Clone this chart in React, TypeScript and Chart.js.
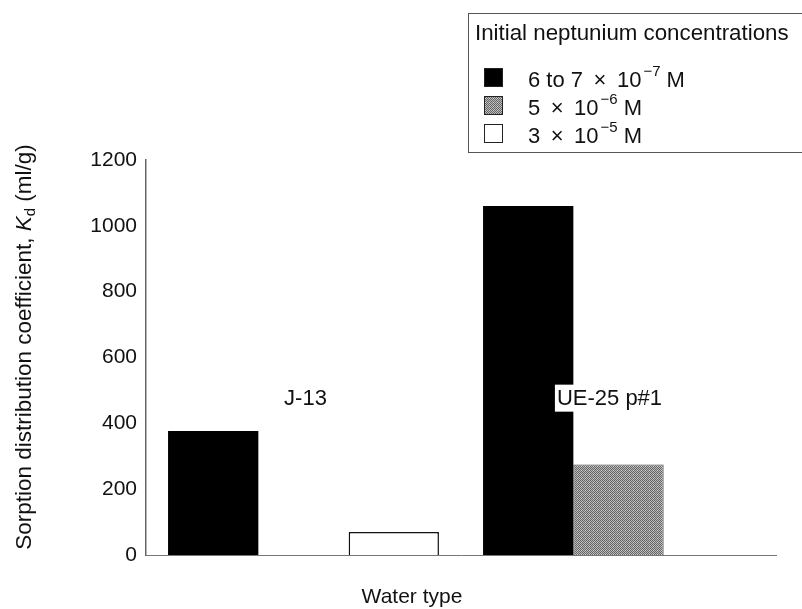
import React, { useEffect, useRef } from "react";
import { Chart, registerables } from "chart.js";

Chart.register(...registerables);

// ---------- data ----------
const categories = ["J-13", "UE-25 p#1"];
const seriesBase = ["6 to 7 \u2009\u00d7\u2009 10", "5 \u2009\u00d7\u2009 10", "3 \u2009\u00d7\u2009 10"];
const seriesExp = ["\u22127", "\u22126", "\u22125"];
const lowConc = [377, 1060];
const midConc: (number | null)[] = [null, 275];
const highConc: (number | null)[] = [70, null];
const yTicks = [0, 200, 400, 600, 800, 1000, 1200];
const legendTitle = "Initial neptunium concentrations";
const xTitle = "Water type";
const yTitleParts = ["Sorption distribution coefficient, ", "K", "d", " (ml/g)"];
const categoryLabelValue = 478;

const FONT = "'Liberation Sans', Arial, Helvetica, sans-serif";

function makeGreyPattern(): CanvasPattern | string {
  const c = document.createElement("canvas");
  c.width = 4;
  c.height = 4;
  const g = c.getContext("2d");
  if (!g) return "#909090";
  g.fillStyle = "#b9b9b9";
  g.fillRect(0, 0, 4, 4);
  g.fillStyle = "#656565";
  const dark = [
    [0, 0], [2, 0], [1, 1], [3, 1], [0, 2], [2, 2], [3, 3], [1, 3],
  ];
  dark.forEach(([x, y]) => g.fillRect(x, y, 1, 1));
  g.fillStyle = "#d8d8d8";
  g.fillRect(1, 2, 1, 1);
  const p = g.createPattern(c, "repeat");
  return p || "#909090";
}

export default function App() {
  const ref = useRef<HTMLCanvasElement | null>(null);

  useEffect(() => {
    if (!ref.current) return;
    const grey = makeGreyPattern();

    const drawPlugin = {
      id: "customDraw",
      afterDraw(chart: any) {
        const ctx: CanvasRenderingContext2D = chart.ctx;
        const xs = chart.scales.x;
        const ys = chart.scales.y;
        ctx.save();

        // category labels
        const offsets = [2, -9];
        ctx.font = `22px ${FONT}`;
        ctx.textBaseline = "middle";
        ctx.textAlign = "center";
        categories.forEach((c, i) => {
          const cx = xs.getPixelForValue(i) + offsets[i];
          const cy = ys.getPixelForValue(categoryLabelValue);
          const w = ctx.measureText(c).width;
          ctx.fillStyle = "#ffffff";
          ctx.fillRect(cx - w / 2 - 2, cy - 13, w + 4, 27);
          ctx.fillStyle = "#111";
          ctx.fillText(c, cx, cy + 1);
        });

        // x title
        ctx.font = `21px ${FONT}`;
        ctx.textAlign = "center";
        ctx.textBaseline = "alphabetic";
        ctx.fillStyle = "#111";
        ctx.fillText(xTitle, 412, 603);

        // y title (rotated, with italic K and subscript d)
        ctx.save();
        ctx.translate(25, 347);
        ctx.rotate(-Math.PI / 2);
        ctx.textBaseline = "middle";
        ctx.textAlign = "left";
        const fonts = [
          `22.5px ${FONT}`,
          `italic 22.5px ${FONT}`,
          `15px ${FONT}`,
          `22.5px ${FONT}`,
        ];
        const widths = yTitleParts.map((t, i) => {
          ctx.font = fonts[i];
          return ctx.measureText(t).width;
        });
        const total = widths.reduce((a, b) => a + b, 0);
        let px = -total / 2;
        yTitleParts.forEach((t, i) => {
          ctx.font = fonts[i];
          ctx.fillText(t, px, i === 2 ? 6 : 0);
          px += widths[i];
        });
        ctx.restore();

        // legend
        ctx.strokeStyle = "#555";
        ctx.lineWidth = 1;
        ctx.strokeRect(468.5, 13.5, 340, 139);
        ctx.font = `22.3px ${FONT}`;
        ctx.textAlign = "left";
        ctx.textBaseline = "alphabetic";
        ctx.fillStyle = "#111";
        ctx.fillText(legendTitle, 475, 40);
        const fills: (string | CanvasPattern)[] = ["#000", grey, "#fff"];
        const swY = [68, 96, 124];
        const base = [87, 115, 143];
        seriesBase.forEach((s, i) => {
          ctx.fillStyle = fills[i] as any;
          ctx.fillRect(484, swY[i], 19, 19);
          ctx.strokeStyle = "#222";
          ctx.lineWidth = 1;
          ctx.strokeRect(484.5, swY[i] + 0.5, 18, 18);
          ctx.fillStyle = "#111";
          ctx.font = `22px ${FONT}`;
          let tx = 528;
          ctx.fillText(s, tx, base[i]);
          tx += ctx.measureText(s).width + 2;
          ctx.font = `15px ${FONT}`;
          ctx.fillText(seriesExp[i], tx, base[i] - 11);
          tx += ctx.measureText(seriesExp[i]).width;
          ctx.font = `22px ${FONT}`;
          ctx.fillText(" M", tx, base[i]);
        });

        ctx.restore();
      },
    };

    const chart = new Chart(ref.current, {
      type: "bar",
      data: {
        labels: categories,
        datasets: [
          {
            label: seriesBase[0] + seriesExp[0] + " M",
            data: lowConc,
            backgroundColor: "#000",
            borderWidth: 0,
          },
          {
            label: seriesBase[1] + seriesExp[1] + " M",
            data: midConc as any,
            backgroundColor: grey as any,
            borderColor: "#444",
            borderWidth: 1,
          },
          {
            label: seriesBase[2] + seriesExp[2] + " M",
            data: highConc as any,
            backgroundColor: "#fff",
            borderColor: "#111",
            borderWidth: 1.5,
          },
        ],
      },
      options: {
        responsive: false,
        animation: false,
        layout: { padding: { left: 0, top: 160, right: 26, bottom: 54 } },
        datasets: {
          bar: { categoryPercentage: 0.86, barPercentage: 1.0 },
        },
        plugins: {
          legend: { display: false },
          tooltip: { enabled: false },
          title: { display: false },
        },
        scales: {
          x: {
            grid: { display: false },
            ticks: { display: false },
            border: { display: true, color: "#777", width: 1 },
            afterFit: (s: any) => {
              s.height = 0;
            },
          },
          y: {
            min: 0,
            max: 1200,
            afterBuildTicks: (s: any) => {
              s.ticks = yTicks.map((v) => ({ value: v }));
            },
            grid: { display: false, drawTicks: false },
            border: { display: true, color: "#666", width: 1.5 },
            ticks: {
              padding: 9,
              color: "#111",
              font: { family: FONT, size: 21 },
              callback: (v: any) => String(v),
            },
            afterFit: (s: any) => {
              s.width = 146;
            },
          },
        },
      },
      plugins: [drawPlugin],
    });

    return () => chart.destroy();
  }, []);

  return (
    <div style={{ position: "absolute", left: 0, top: 0, width: 802, height: 609, background: "#fff" }}>
      <canvas ref={ref} width={802} height={609} style={{ width: 802, height: 609, display: "block" }} />
    </div>
  );
}
